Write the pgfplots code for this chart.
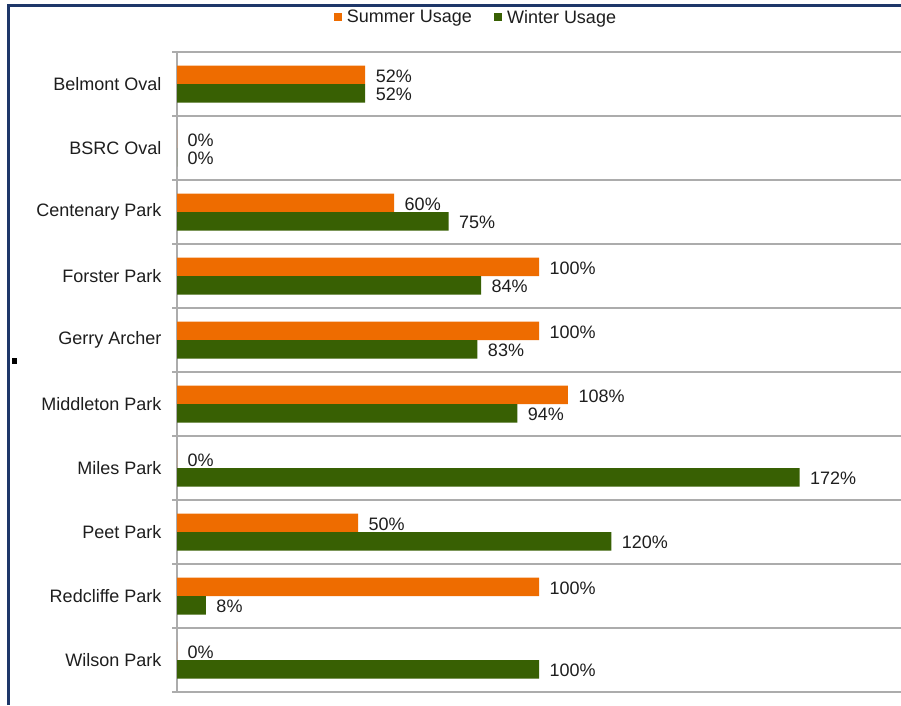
\documentclass[border=0pt]{standalone}
\usepackage{pgfplots}
\pgfplotsset{compat=1.18}
\usepackage{fontspec}
\setmainfont{Liberation Sans}
\definecolor{sumor}{RGB}{238,108,0}
\definecolor{wingr}{RGB}{56,96,3}
\definecolor{gridg}{RGB}{172,172,172}
\definecolor{frameb}{RGB}{30,55,105}
\definecolor{txt}{RGB}{30,30,30}
\begin{document}
\begin{tikzpicture}[x=1pt,y=1pt,font=\fontsize{18}{21}\selectfont]
\useasboundingbox (0,0) rectangle (901,705);
\fill[white] (0,0) rectangle (901,705);
\draw[frameb, line width=2.5pt] (8.5,0) -- (8.5,699.5) -- (901,699.5);
\fill[black] (12,341) rectangle (17,347);
\begin{axis}[
  at={(177pt,13pt)}, anchor=south west,
  scale only axis, width=724pt, height=640pt,
  xmin=0, xmax=200, ymin=-0.5, ymax=9.5, y dir=reverse,
  axis x line=none, axis y line*=left,
  xbar, bar width=18.5pt,
  ytick={0,...,9},
  yticklabels={Belmont Oval, BSRC Oval, Centenary Park, Forster Park, Gerry Archer, Middleton Park, Miles Park, Peet Park, Redcliffe Park, Wilson Park},
  yticklabel style={text=txt, xshift=-12pt},
  major tick length=0pt,
  minor ytick={-0.5,0.5,...,9.5},
  minor tick length=5pt, tick align=outside,
  yminorgrids, minor grid style={gridg, line width=1.2pt},
  y axis line style={gridg, line width=1.2pt},
  every tick/.style={gridg, line width=1.2pt},
  point meta=x,
  nodes near coords={\pgfmathprintnumber{\pgfplotspointmeta}\%},
  nodes near coords style={anchor=west, xshift=7pt, yshift=-1.5pt, text=txt, /pgf/number format/assume math mode=true},
  legend style={at={(0.413,1.054)}, anchor=center, draw=none, fill=none, text=txt,
    legend columns=2,
    /tikz/every odd column/.append style={column sep=3pt},
    /tikz/every even column/.append style={column sep=20pt}},
  legend image code/.code={\fill[#1] (0pt,-4pt) rectangle (8pt,4pt);},
  clip=false,
]
\addplot[fill=sumor, draw=none, bar shift=9.25pt] coordinates {
  (52,0) (0,1) (60,2) (100,3) (100,4) (108,5) (0,6) (50,7) (100,8) (0,9)};
\addlegendentry{Summer Usage}
\addplot[fill=wingr, draw=none, bar shift=-9.25pt] coordinates {
  (52,0) (0,1) (75,2) (84,3) (83,4) (94,5) (172,6) (120,7) (8,8) (100,9)};
\addlegendentry{Winter Usage}
\end{axis}
\end{tikzpicture}
\end{document}
